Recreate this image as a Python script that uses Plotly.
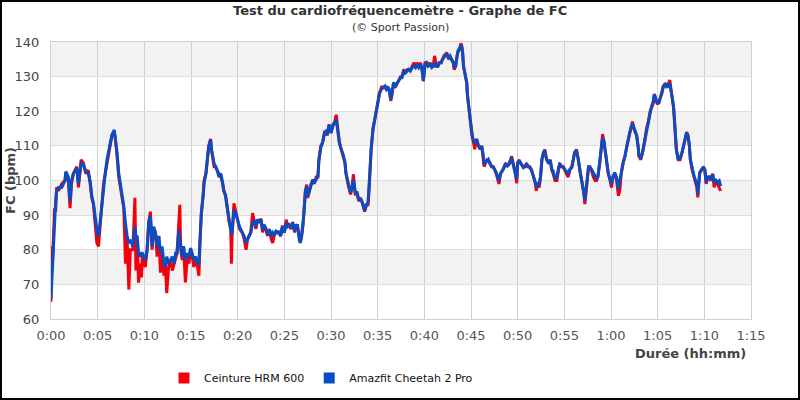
import plotly.graph_objects as go

# Time (minutes)
minutes = [
    0.0, 0.07, 0.15, 0.3, 0.38, 0.5, 0.6, 0.8, 1.15, 1.5,
    1.58, 1.86, 2.04, 2.2, 2.4, 2.76, 2.94, 3.23, 3.48, 3.73,
    4.0, 4.2, 4.37, 4.55, 4.73, 4.91, 5.09, 5.27, 5.45, 5.63,
    5.81, 6.0, 6.17, 6.35, 6.53, 6.78, 6.9, 7.08, 7.26, 7.44,
    7.62, 7.8, 7.98, 8.16, 8.34, 8.5, 8.77, 8.99, 9.1, 9.24,
    9.38, 9.6, 9.7, 9.78, 10.1, 10.3, 10.47, 10.65, 10.83, 11.0,
    11.2, 11.37, 11.55, 11.73, 11.9, 12.1, 12.27, 12.4, 12.6, 12.8,
    13.0, 13.2, 13.35, 13.5, 13.7, 13.8, 13.9, 14.06, 14.2, 14.4,
    14.6, 14.78, 14.96, 15.1, 15.3, 15.5, 15.7, 15.85, 15.96, 16.1,
    16.3, 16.4, 16.6, 16.75, 16.9, 17.1, 17.2, 17.47, 17.65, 17.8,
    18.0, 18.2, 18.4, 18.5, 18.7, 18.9, 19.08, 19.26, 19.33, 19.4,
    19.6, 19.8, 20.0, 20.2, 20.5, 20.7, 20.9, 21.05, 21.2, 21.4,
    21.6, 21.77, 21.95, 22.1, 22.3, 22.5, 22.67, 22.8, 23.0, 23.2,
    23.4, 23.6, 23.75, 23.9, 24.1, 24.3, 24.45, 24.6, 24.8, 25.0,
    25.2, 25.35, 25.5, 25.7, 25.9, 26.1, 26.25, 26.4, 26.6, 26.7,
    26.85, 27.0, 27.1, 27.25, 27.4, 27.5, 27.7, 27.87, 28.05, 28.2,
    28.4, 28.6, 28.7, 28.8, 28.9, 29.1, 29.3, 29.45, 29.6, 29.8,
    30.0, 30.2, 30.4, 30.56, 30.7, 30.9, 31.1, 31.3, 31.5, 31.6,
    31.75, 31.9, 32.1, 32.25, 32.4, 32.6, 32.8, 32.97, 33.15, 33.3,
    33.5, 33.6, 33.8, 33.97, 34.1, 34.2, 34.3, 34.5, 34.7, 34.9,
    35.05, 35.2, 35.4, 35.6, 35.8, 35.96, 36.1, 36.25, 36.4, 36.55,
    36.7, 36.9, 37.1, 37.27, 37.45, 37.6, 37.8, 37.98, 38.15, 38.3,
    38.5, 38.7, 38.9, 39.05, 39.2, 39.4, 39.6, 39.75, 39.9, 40.07,
    40.25, 40.4, 40.6, 40.8, 40.95, 41.1, 41.3, 41.45, 41.6, 41.8,
    41.95, 42.1, 42.25, 42.4, 42.6, 42.75, 42.9, 43.1, 43.2, 43.35,
    43.5, 43.6, 43.8, 43.9, 44.0, 44.1, 44.2, 44.35, 44.45, 44.55,
    44.6, 44.7, 44.8, 44.9, 45.0, 45.1, 45.2, 45.4, 45.6, 45.8,
    46.0, 46.15, 46.3, 46.4, 46.7, 46.85, 47.0, 47.2, 47.4, 47.55,
    47.7, 47.9, 48.0, 48.15, 48.4, 48.55, 48.7, 48.9, 49.1, 49.25,
    49.35, 49.5, 49.7, 49.9, 50.0, 50.15, 50.3, 50.6, 50.8, 50.96,
    51.1, 51.3, 51.5, 51.7, 51.9, 52.0, 52.1, 52.3, 52.45, 52.6,
    52.75, 52.9, 53.1, 53.3, 53.5, 53.65, 53.8, 54.0, 54.2, 54.35,
    54.5, 54.7, 54.9, 55.05, 55.2, 55.4, 55.6, 55.8, 55.96, 56.1,
    56.3, 56.5, 56.7, 56.85, 57.0, 57.1, 57.2, 57.4, 57.6, 57.75,
    57.9, 58.1, 58.3, 58.45, 58.6, 58.8, 59.0, 59.1, 59.25, 59.4,
    59.55, 59.7, 59.9, 60.05, 60.2, 60.4, 60.6, 60.8, 60.95, 61.1,
    61.3, 61.5, 61.7, 61.85, 62.0, 62.15, 62.3, 62.45, 62.6, 62.75,
    62.9, 63.0, 63.2, 63.35, 63.5, 63.6, 63.8, 64.0, 64.2, 64.35,
    64.5, 64.65, 64.8, 65.0, 65.15, 65.3, 65.45, 65.6, 65.8, 66.0,
    66.15, 66.3, 66.5, 66.7, 66.8, 66.9, 67.0, 67.2, 67.4, 67.6,
    67.8, 67.95, 68.1, 68.25, 68.4, 68.5, 68.7, 68.85, 69.0, 69.2,
    69.3, 69.4, 69.5, 69.7, 69.9, 70.05, 70.2, 70.35, 70.5, 70.7,
    70.9, 71.05, 71.2, 71.4, 71.6, 71.75,
]

# Amazfit Cheetah 2 Pro (bpm)
amazfit = [
    66, 70, 75, 86, 90, 94, 97, 98, 98, 100,
    102.6, 101, 94, 100, 102, 103.5, 99, 105, 104.5, 102.6,
    102, 99.7, 95.4, 93.4, 89.6, 85.7, 83.8, 88.6, 92.5, 98.3,
    102, 106, 108.8, 110.8, 113.2, 114.6, 111.7, 108, 102, 99.2,
    95.4, 92.5, 87.7, 83.8, 81.9, 82.9, 80.9, 86.7, 84, 83.8,
    79, 78, 79, 79, 77, 80, 88, 89.8, 81, 86.7,
    84.8, 81, 83.9, 79, 81, 76, 75, 78, 76, 77,
    78, 76, 79, 79, 85.7, 83, 81, 78, 81, 77,
    79, 78, 80.5, 79, 77, 78, 76, 76, 82.8, 90.5,
    95.4, 99.2, 102, 106, 109.8, 111.7, 108.8, 105, 104, 103,
    101, 102, 99.2, 97.3, 95.4, 91.5, 88.6, 85.7, 84.5, 84.8,
    91.5, 90.5, 88.6, 86.7, 84.9, 83.9, 82, 82.9, 83.9, 84.9,
    87.8, 88.2, 86.8, 88.7, 88.2, 88.7, 85.8, 87.3, 86.3, 84.4,
    85.8, 83.9, 84.9, 84.4, 85.4, 84.9, 85.4, 83.9, 86.8, 84.9,
    87.8, 86.8, 87.3, 86.8, 87.8, 85.4, 86.8, 87.3, 83, 82,
    83.9, 87.3, 90.6, 96.4, 98.3, 95.5, 97.4, 98.8, 100.3, 99.3,
    100.3, 101.2, 105.6, 108, 109.4, 110.9, 113.7, 114.2, 113.3, 116.2,
    113.7, 115.7, 116.6, 117.6, 114.7, 110.9, 108.9, 107.5, 105.2, 102.3,
    100.3, 98.4, 96.5, 97.9, 100.3, 96.5, 96.5, 94.6, 94.6, 94.1,
    92.6, 91.2, 93.1, 93.6, 98.4, 104.2, 109, 114.8, 117.7, 121,
    123.4, 125.4, 126.3, 126.8, 127.3, 126.3, 126.8, 126.3, 123.4, 125.4,
    128.3, 127.3, 128.3, 128.7, 129.7, 129.7, 131.6, 131.1, 131.6, 132.1,
    131.6, 132.6, 133, 132.6, 133.5, 132.6, 133.5, 132.1, 128.7, 133.5,
    134, 133, 133.5, 132.6, 133, 134, 133, 133, 134, 134,
    135, 135.5, 136.4, 136.4, 135.5, 136, 135, 134, 132.6, 133,
    135.5, 137.4, 138.4, 138.8, 138.8, 137, 133, 131.1, 129.2, 128.3,
    125.4, 122.5, 120.6, 117.7, 114.8, 112.9, 111.9, 110.9, 111.9, 110,
    109, 110, 107.6, 104.7, 105.6, 106.1, 105.2, 104.2, 103.7, 103.2,
    102.3, 100.3, 99.9, 101.8, 102.8, 103.7, 104.7, 104.2, 104.7, 105.6,
    106.6, 104.7, 102.8, 100.3, 105.2, 105.6, 105.2, 103.7, 104.2, 104.7,
    104.2, 103.7, 102.8, 101.3, 99.4, 98, 99.4, 98.5, 101.3, 106.2,
    108.1, 108.6, 106.2, 105.2, 105.7, 103.3, 102.8, 100.4, 100.9, 103.3,
    104.7, 104.2, 103.7, 103.3, 102.8, 101.8, 103.3, 103.7, 106.2, 108.1,
    108.6, 106.2, 102.3, 100.4, 98.5, 96.5, 94.1, 98.5, 104.2, 103.7,
    103.3, 102.3, 100.9, 100.4, 101.3, 105.2, 110, 112.4, 111.4, 108.1,
    105.2, 102.3, 100.4, 98.9, 100.9, 102.3, 100.9, 97.5, 99.9, 102.3,
    105.2, 107.1, 110, 111.5, 113.8, 115.3, 116.5, 115.3, 113.8, 112.9,
    110, 107.1, 106.6, 107.6, 110, 111.4, 114.8, 117.2, 119.6, 121.5,
    122.5, 124.9, 123.5, 122.5, 122.5, 123.9, 125.4, 127.3, 127.8, 126.8,
    127.8, 127.8, 124.9, 121.5, 117.7, 112.9, 109, 106.1, 106.6, 108,
    110, 111.9, 113.8, 112.9, 110, 106.1, 103.2, 101.8, 100.4, 98.9,
    96, 98.9, 102.3, 103.2, 103.7, 103.2, 99.4, 100.4, 101.3, 100.4,
    101.8, 99.4, 100.4, 99.4, 99.9, 98.4,
]

# Ceinture HRM 600 (bpm)
ceinture = [
    65, 81, 76, 88, 92, 91, 98, 97, 99, 100,
    102, 100, 92, 99, 102, 104, 98, 106, 105, 102,
    103, 99, 95, 93, 88, 82, 81, 88, 92, 99,
    102, 105, 108, 111, 113, 114, 112, 107, 101, 98,
    95, 92, 76, 83, 68.5, 80, 80, 95, 74, 83,
    70.5, 76, 72, 78, 75, 80, 88, 91, 80, 86,
    85, 78, 84, 73.4, 80, 72.5, 75, 67.5, 75, 77,
    74, 76, 78, 79, 88, 93, 80, 77, 81, 70.6,
    78, 76, 80, 79, 75, 78, 75, 72.5, 82, 90,
    96, 100, 102, 106, 110, 112, 109, 104, 104, 103,
    102, 101, 99, 97, 96, 91, 88, 86, 76, 84,
    93.4, 91, 88, 86, 85, 83, 80, 83, 84, 85,
    90.6, 88, 86, 88, 88, 89, 85, 87, 86, 84,
    86, 83, 82, 84, 85, 85, 85, 84, 87, 85,
    88.7, 87, 87, 86, 88, 85, 87, 87, 83, 82,
    84, 87, 91, 97, 98.8, 95, 97, 99, 100, 99,
    101, 101, 106, 108, 110, 111, 114, 114, 113, 116,
    114, 116, 117, 119, 115, 111, 109, 107, 105, 102,
    99.5, 98, 96, 98, 101.8, 96, 96, 94, 95, 94,
    92, 91, 93, 93, 98, 104, 109, 115, 118, 121,
    123, 125, 127, 127, 127, 126, 127, 126, 123, 125,
    128, 127, 128, 129, 130, 130, 132, 131, 132, 132,
    132, 133, 134, 133, 134, 133, 134, 132, 128.7, 134,
    134, 133, 134, 133, 133, 136, 133, 133, 134, 134,
    135, 136, 136, 137, 135, 136, 135, 134, 132, 133,
    136, 137, 138, 139.6, 139, 137, 133, 131, 129, 128,
    125, 122, 120, 118, 116, 113, 112, 109, 112, 110,
    109, 110, 107, 104, 106, 106, 105, 104, 104, 103,
    102, 100, 99, 102, 103, 104, 105, 104, 105, 106,
    107, 105, 103, 99.2, 105, 106, 105, 104, 104, 105,
    104, 104, 103, 101, 99, 97, 99, 98, 101, 106,
    108, 109, 106, 105, 106, 103, 102, 100, 100, 103,
    105, 104, 104, 103, 102, 101, 103, 104, 106, 108,
    109, 106, 102, 100, 98, 96, 93.2, 98, 104, 104,
    103, 101, 100, 100, 101, 105, 111, 113.4, 111, 108,
    105, 102, 100, 98, 101, 102, 100, 95.6, 97.5, 102,
    105, 107, 110, 112, 114, 115, 117, 115, 114, 113,
    110, 107, 106, 108, 110, 111, 115, 117, 120, 121,
    122, 125, 123, 122, 123, 124, 125, 127, 128, 127,
    128, 129, 125, 121, 117, 112, 109, 106, 106, 108,
    110, 112, 114, 113, 110, 106, 103, 101, 100, 98,
    95.1, 99, 102, 103, 104, 103, 99, 101, 101, 100,
    102, 98, 100, 99, 98, 97,
]

x_tick_vals = [0, 5, 10, 15, 20, 25, 30, 35, 40, 45, 50, 55, 60, 65, 70, 75]
x_tick_text = ["0:00", "0:05", "0:10", "0:15", "0:20", "0:25", "0:30", "0:35",
               "0:40", "0:45", "0:50", "0:55", "1:00", "1:05", "1:10", "1:15"]
bands = [(70, 80), (90, 100), (110, 120), (130, 140)]

RED = "#f2000c"
BLUE = "#0a4cc2"
FONT = "DejaVu Sans"

n = min(len(minutes), len(amazfit), len(ceinture))

fig = go.Figure()
fig.add_trace(go.Scatter(x=minutes[:n], y=ceinture[:n], mode="lines",
                         line=dict(color=RED, width=3), showlegend=False,
                         name="Ceinture HRM 600"))
fig.add_trace(go.Scatter(x=minutes[:n], y=amazfit[:n], mode="lines",
                         line=dict(color=BLUE, width=3), showlegend=False,
                         name="Amazfit Cheetah 2 Pro"))
# legend entries (square markers)
fig.add_trace(go.Scatter(x=[None], y=[None], mode="markers", name="Ceinture HRM 600",
                         marker=dict(symbol="square", size=11, color=RED)))
fig.add_trace(go.Scatter(x=[None], y=[None], mode="markers", name="Amazfit Cheetah 2 Pro",
                         marker=dict(symbol="square", size=11, color=BLUE)))

shapes = []
for lo, hi in bands:
    shapes.append(dict(type="rect", xref="paper", yref="y", x0=0, x1=1, y0=lo, y1=hi,
                       fillcolor="#f2f2f2", line=dict(width=0), layer="below"))
# outer frame
W, H = 700.0, 277.0
shapes.append(dict(type="rect", xref="paper", yref="paper",
                   x0=(1 - 51) / W, x1=(799 - 51) / W,
                   y0=(319 - 399) / H, y1=(319 - 1) / H,
                   line=dict(color="black", width=2), fillcolor="rgba(0,0,0,0)"))

annotations = [
    dict(text="<b>Test du cardiofréquencemètre - Graphe de FC</b>", xref="paper", yref="paper",
         x=(400 - 51) / W, y=(319 - 11) / H, xanchor="center", yanchor="middle", showarrow=False,
         font=dict(family=FONT, size=13, color="#333333")),
    dict(text="(© Sport Passion)", xref="paper", yref="paper",
         x=(400 - 51) / W, y=(319 - 28) / H, xanchor="center", yanchor="middle", showarrow=False,
         font=dict(family=FONT, size=11, color="#333333")),
    dict(text="<b>Durée (hh:mm)</b>", xref="paper", yref="paper",
         x=(748 - 51) / W, y=(319 - 353) / H, xanchor="right", yanchor="middle", showarrow=False,
         font=dict(family=FONT, size=13, color="#444444")),
    dict(text="<b>FC (bpm)</b>", xref="paper", yref="paper", textangle=-90,
         x=(10 - 51) / W, y=(319 - 181) / H, xanchor="center", yanchor="middle", showarrow=False,
         font=dict(family=FONT, size=13, color="#444444")),
]

fig.update_layout(
    width=800, height=400,
    margin=dict(l=51, r=49, t=42, b=81),
    paper_bgcolor="white", plot_bgcolor="white",
    font=dict(family=FONT, color="#444444"),
    shapes=shapes, annotations=annotations,
    legend=dict(orientation="h", xref="container", yref="container",
                x=0.205, y=1 - 378 / 400, xanchor="left", yanchor="middle",
                font=dict(family=FONT, size=11, color="#111111"),
                bgcolor="rgba(0,0,0,0)"),
)
fig.update_xaxes(range=[0, 75], tickvals=x_tick_vals, ticktext=x_tick_text,
                 showgrid=True, gridcolor="#d0d0d0", gridwidth=1,
                 showline=True, linecolor="#d0d0d0", mirror=True,
                 ticks="outside", ticklen=4, tickcolor="rgba(0,0,0,0)",
                 tickfont=dict(family=FONT, size=13, color="#555555"), zeroline=False)
fig.update_yaxes(range=[60, 140], dtick=10, showgrid=True, gridcolor="#dddddd", gridwidth=1,
                 showline=True, linecolor="#d0d0d0", mirror=True,
                 ticks="outside", ticklen=8, tickcolor="rgba(0,0,0,0)",
                 tickfont=dict(family=FONT, size=13, color="#444444"), zeroline=False)

fig.write_html("out.html")
